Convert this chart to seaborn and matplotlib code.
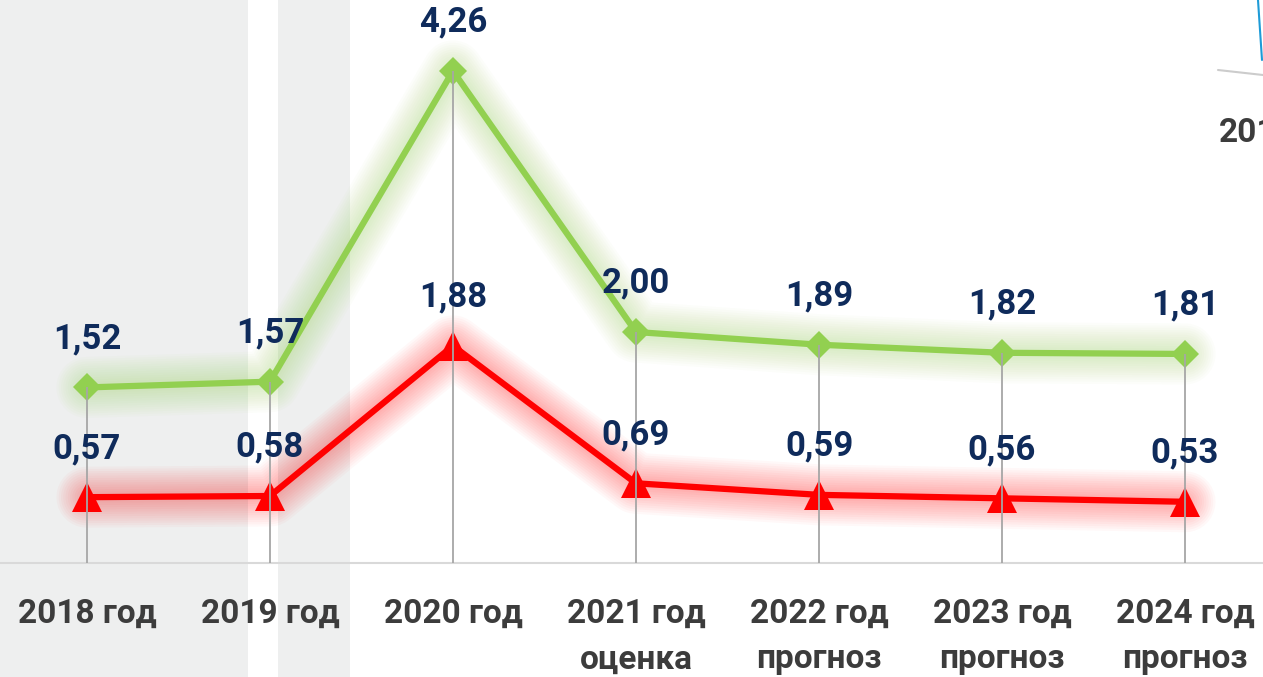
import numpy as np
import pandas as pd
import matplotlib
matplotlib.use("Agg")
import matplotlib.pyplot as plt
import seaborn as sns
from matplotlib import font_manager
from matplotlib.patches import Rectangle
from matplotlib.lines import Line2D

# data
years = ["2018 год", "2019 год", "2020 год", "2021 год\nоценка",
         "2022 год\nпрогноз", "2023 год\nпрогноз", "2024 год\nпрогноз"]
green_values = [1.52, 1.57, 4.26, 2.00, 1.89, 1.82, 1.81]
red_values = [0.57, 0.58, 1.88, 0.69, 0.59, 0.56, 0.53]

GREEN = "#92d050"
RED = "#ff0000"
NAVY = "#0f2b5b"
TICK_GREY = "#3c3c3c"

sns.set_style("white")
names = {f.name for f in font_manager.fontManager.ttflist}
family = "Roboto" if "Roboto" in names else "DejaVu Sans"
plt.rcParams["font.family"] = [family, "DejaVu Sans"]

W, H = 1263, 677
fig = plt.figure(figsize=(W / 100, H / 100), dpi=100)
base_px = 114  # baseline height from the bottom, pixels
ax = fig.add_axes([0, base_px / H, 1, 1 - base_px / H])
ax.patch.set_alpha(0)

# grey background panels behind the chart
for x0, x1 in [(0, 248), (278, 350)]:
    fig.add_artist(Rectangle((x0 / W, 0), (x1 - x0) / W, 1, transform=fig.transFigure,
                             facecolor="#eeefef", edgecolor="none", zorder=-1))

df = pd.DataFrame({"x": np.arange(len(years)), "green": green_values, "red": red_values})

# soft glow under the lines
for col, c in [("green", GREEN), ("red", RED)]:
    for lw in np.linspace(44, 8, 12):
        ax.plot(df["x"], df[col], color=c, lw=lw, alpha=0.028,
                solid_capstyle="round", solid_joinstyle="round", zorder=1)

sns.lineplot(data=df, x="x", y="green", color=GREEN, linewidth=4.5, marker="D",
             markersize=14, markeredgewidth=0, ax=ax, zorder=3)
sns.lineplot(data=df, x="x", y="red", color=RED, linewidth=4.5, marker="^",
             markersize=21, markeredgewidth=0, ax=ax, zorder=3)

# vertical drop lines from the upper marker to the baseline
ax.vlines(df["x"], 0, df["green"], color="#a6a6a6", lw=1.3, zorder=4)

for col in ["green", "red"]:
    for xi, v in zip(df["x"], df[col]):
        ax.annotate(f"{v:.2f}".replace(".", ","), (xi, v), xytext=(0, 35),
                    textcoords="offset points", ha="center", va="center",
                    fontsize=25, fontweight="bold", color=NAVY, zorder=5)

ax.set_xlim(-0.475, 6.426)
ax.set_ylim(0, (H - base_px) / 115.5)
ax.set_xticks(df["x"])
ax.set_xticklabels(years, fontsize=24, fontweight="bold", color=TICK_GREY, linespacing=1.55)
ax.tick_params(axis="x", length=0, pad=25)
ax.set_yticks([])
ax.set_xlabel("")
ax.set_ylabel("")
for s in ["top", "left", "right"]:
    ax.spines[s].set_visible(False)
ax.spines["bottom"].set_color("#d9d9d9")
ax.spines["bottom"].set_linewidth(1.5)

# cut-off pieces of the neighbouring chart at the top right
fig.add_artist(Line2D([1258 / W, 1262 / W], [1, 1 - 60 / H], transform=fig.transFigure,
                      color="#1e9bd7", lw=1.5))
fig.add_artist(Line2D([1218 / W, 1263 / W], [1 - 70 / H, 1 - 75 / H], transform=fig.transFigure,
                      color="#cccccc", lw=1.5))
fig.text(1219 / W, 1 - 133 / H, "2019", fontsize=24, fontweight="bold", color=TICK_GREY,
         ha="left", va="center")

fig.savefig("out.png", dpi=100)
